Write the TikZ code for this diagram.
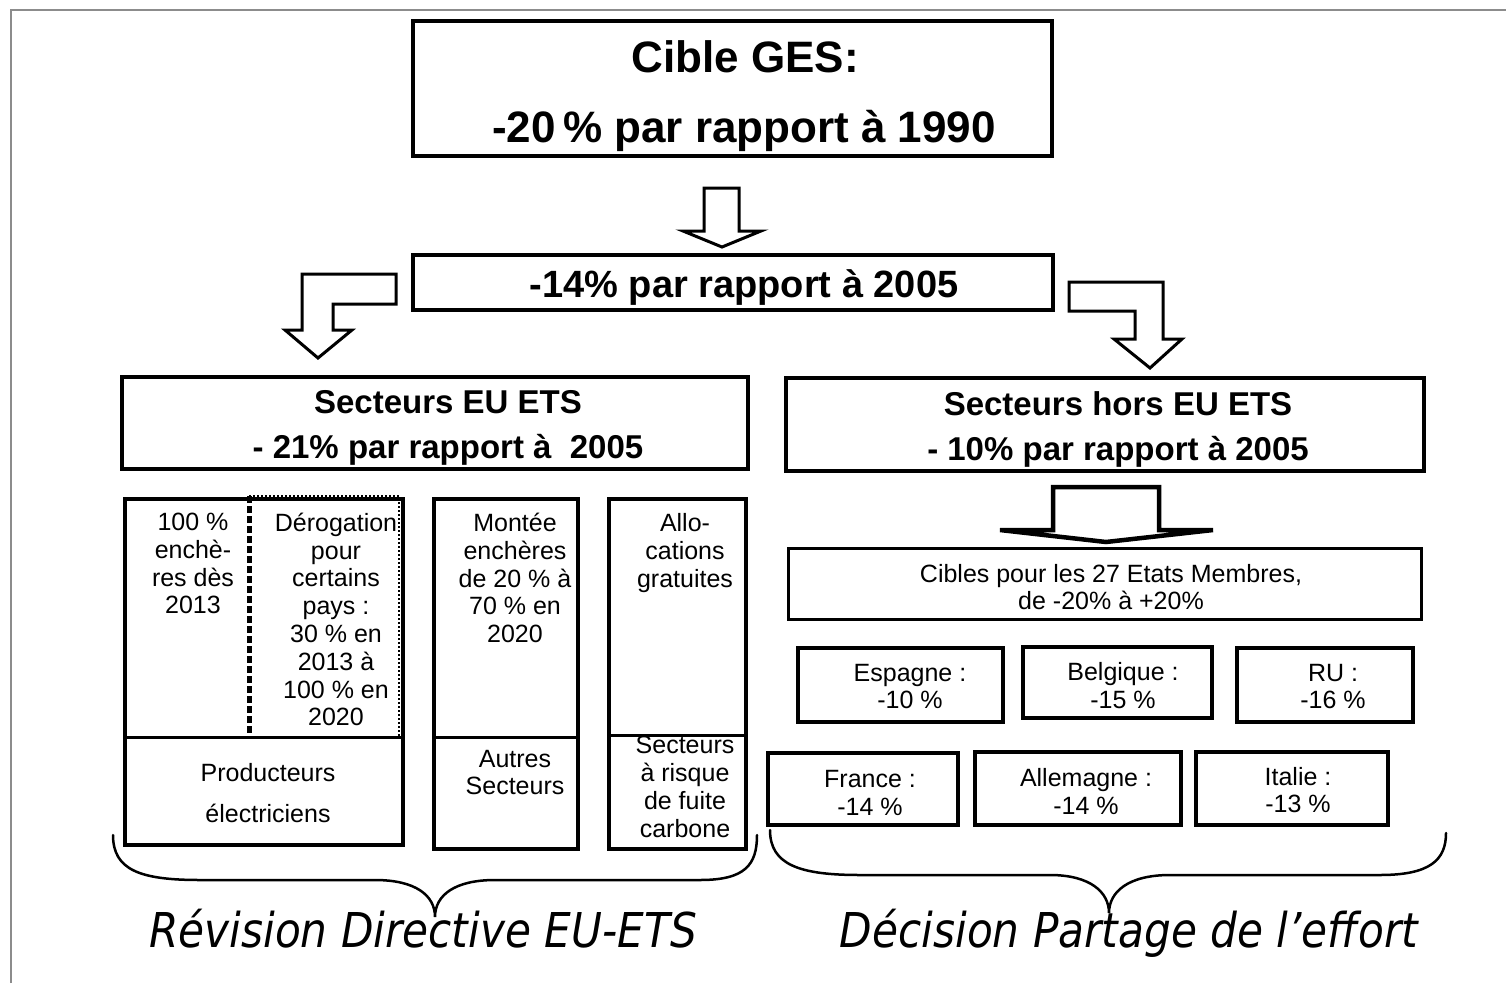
\documentclass[tikz,border=0pt]{standalone}
\usepackage{fontspec}
\setmainfont{Liberation Sans}
\newfontfamily\bracefont[FakeStretch=0.88]{DejaVu Sans}
\begin{document}
\begin{tikzpicture}[x=1pt,y=-1pt,
  box/.style={draw, line width=4pt, inner sep=0pt},
  bigtxt/.style={font=\fontsize{44}{50}\selectfont\bfseries, anchor=base, inner sep=0pt},
  headtxt/.style={font=\fontsize{33}{45}\selectfont\bfseries, align=center, inner sep=0pt},
  smalltxt/.style={font=\fontsize{25}{27.8}\selectfont, align=center, inner sep=0pt},
  blockarrow/.style={draw, line width=3pt, fill=white, line join=miter},
  bracepath/.style={draw, line width=2.5pt, line cap=round},
  bracelabel/.style={font=\bracefont\itshape\fontsize{48}{56}\selectfont, anchor=base, inner sep=0pt},
]
\useasboundingbox (0,0) rectangle (1506,983);
\fill[white] (0,0) rectangle (1506,983);
\draw[line width=2.5pt, color=black!45] (11,983) -- (11,10) -- (1506,10);

% ---- top boxes
\node[box, line width=4.5pt, minimum width=639pt, minimum height=135pt] (top) at (732.5,88.5) {};
\node[bigtxt] (topa) at (745,72) {Cible GES:};
\node[bigtxt] (topb) at (744,142) {-20\,\% par rapport à 1990};

\node[box, minimum width=640pt, minimum height=55pt] (mid) at (733,282.5) {};
\node[bigtxt, font=\fontsize{38}{44}\selectfont\bfseries] (midt) at (744,297) {-14\% par rapport à 2005};

% arrows from top
\path[blockarrow] (704,188) -- (739,188) -- (739,231) -- (761,231) -- (722,247) -- (683,231) -- (704,231) -- cycle;
\path[blockarrow] (396,274) -- (302,274) -- (302,330) -- (285,330) -- (318,358) -- (352,330) -- (333,330) -- (333,304) -- (396,304) -- cycle;
\path[blockarrow] (1069,282) -- (1163,282) -- (1163,339) -- (1182,339) -- (1150,368) -- (1114,339) -- (1135,339) -- (1135,311) -- (1069,311) -- cycle;

% ---- sector boxes
\node[box, minimum width=626pt, minimum height=92pt] (ets) at (435,423) {};
\node[headtxt] (etst) at (448,428.2) {Secteurs EU ETS\\- 21\% par rapport à\ \ 2005};
\node[box, line width=4.5pt, minimum width=638pt, minimum height=93pt] (hors) at (1105,424.5) {};
\node[headtxt] (horst) at (1118,429.7) {Secteurs hors EU ETS\\- 10\% par rapport à 2005};

% ---- EU ETS detail boxes
\node[box, minimum width=278pt, minimum height=346pt] (prod) at (264,672) {};
\draw[line width=3pt] (125,737) -- (403,737);
\draw[line width=2pt, dotted] (249,496) -- (399,496) -- (399,736);
\draw[line width=5pt, dash pattern=on 7pt off 3pt] (249,496) -- (249,736);
\node[smalltxt] (encheres) at (193,563.5) {100 \%\\enchè-\\res dès\\2013};
\node[smalltxt] (derog) at (336,619.5) {Dérogation\\pour\\certains\\pays :\\30 \% en\\2013 à\\100 \% en\\2020};
\node[smalltxt] (prodt) at (268,793.5) {Producteurs\\[13.2pt]électriciens};

\node[box, minimum width=144pt, minimum height=350pt] (autres) at (506,674) {};
\draw[line width=3pt] (434,737) -- (578,737);
\node[smalltxt] (montee) at (515,578) {Montée\\enchères\\de 20 \% à\\70 \% en\\2020};
\node[smalltxt] (autrest) at (515,772.5) {Autres\\Secteurs};

\node[box, minimum width=137pt, minimum height=350pt] (alloc) at (677.5,674) {};
\draw[line width=3pt] (609,735) -- (746,735);
\node[smalltxt] (alloct) at (685,553) {Allo-\\cations\\gratuites};
\node[smalltxt] (fuite) at (685,787) {Secteurs\\à risque\\de fuite\\carbone};

% ---- non ETS
\path[blockarrow, line width=4.5pt] (1053,487) -- (1159,487) -- (1159,530) -- (1213,530) -- (1106,542) -- (1000,530) -- (1053,530) -- cycle;
\node[box, line width=3pt, minimum width=633pt, minimum height=71pt] (cibles) at (1104.5,583.5) {};
\node[smalltxt] (ciblest) at (1111,587) {Cibles pour les 27 Etats Membres,\\de -20\% à +20\%};

\node[box, minimum width=205pt, minimum height=74pt] (esp) at (900.5,685) {};
\node[smalltxt] (espt) at (910,686.5) {Espagne :\\-10 \%};
\node[box, minimum width=189pt, minimum height=71pt] (bel) at (1117.5,682.5) {};
\node[smalltxt] (belt) at (1123,685.5) {Belgique :\\-15 \%};
\node[box, minimum width=176pt, minimum height=74pt] (ru) at (1325,685) {};
\node[smalltxt] (rut) at (1333,686.5) {RU :\\-16 \%};

\node[box, minimum width=190pt, minimum height=72pt] (fra) at (863,789) {};
\node[smalltxt] (frat) at (870,793) {France :\\-14 \%};
\node[box, minimum width=206pt, minimum height=73pt] (all) at (1078,788.5) {};
\node[smalltxt] (allt) at (1086,791.5) {Allemagne :\\-14 \%};
\node[box, minimum width=192pt, minimum height=73pt] (ita) at (1292,788.5) {};
\node[smalltxt] (itat) at (1298,790) {Italie :\\-13 \%};

% ---- braces and labels
\node[bracelabel] (revision) at (423,947) {Révision Directive EU-ETS};
\node[bracelabel] (decision) at (1129,947) {Décision Partage de l’effort};
\path[bracepath] (113,835) .. controls (113,870) and (140,880) .. (200,880) -- (375,880)
  .. controls (415,880) and (435,895) .. (435,917)
  .. controls (435,895) and (455,880) .. (495,880) -- (700,880)
  .. controls (745,880) and (757,865) .. (757,835);
\path[bracepath] (770,830) .. controls (770,865) and (800,875) .. (860,875) -- (1050,875)
  .. controls (1090,875) and (1109,892) .. (1109,913)
  .. controls (1109,892) and (1128,875) .. (1170,875) -- (1380,875)
  .. controls (1430,875) and (1446,860) .. (1446,833);
\end{tikzpicture}
\end{document}
